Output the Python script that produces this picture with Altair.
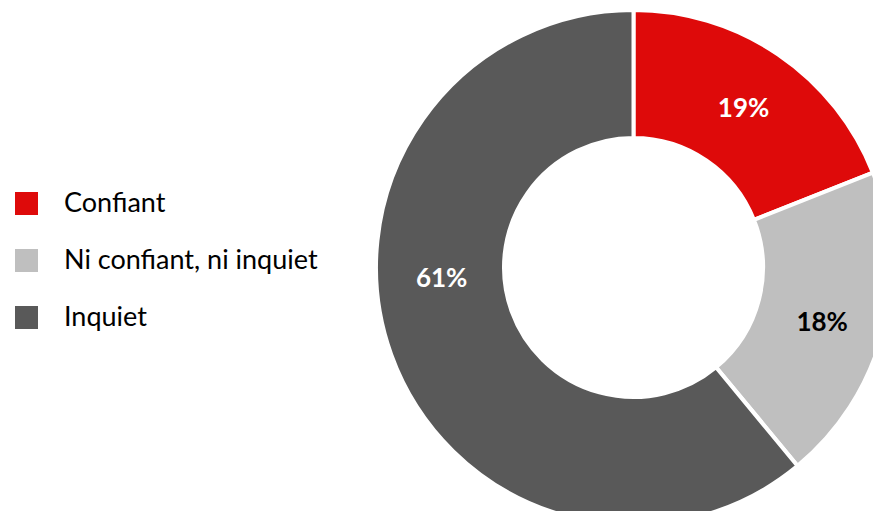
import altair as alt
import pandas as pd

categories = ["Confiant", "Ni confiant, ni inquiet", "Inquiet"]
shares = [19, 20, 61]            # slice sizes as drawn in the picture
labels = ["19%", "18%", "61%"]
label_colors = ["#FFFFFF", "#000000", "#FFFFFF"]
label_pos = [9.4, 29.4, 74.3]    # angular position of each label (same 0-100 scale)
colors = ["#DE0A0A", "#BFBFBF", "#595959"]

df = pd.DataFrame({
    "cat": categories,
    "share": shares,
    "label": labels,
    "tcolor": label_colors,
    "lpos": label_pos,
})
df["end"] = df["share"].cumsum()
df["start"] = df["end"] - df["share"]

theta_scale = alt.Scale(domain=[0, 100], range=[0, 6.283185307179586])
CX, CY = 625.5, 259.5
FONT = "Lato"

base = alt.Chart(df)

arcs = base.mark_arc(innerRadius=129.5, outerRadius=257.5, stroke="white", strokeWidth=4).encode(
    theta=alt.Theta("start:Q", scale=theta_scale),
    theta2="end:Q",
    x=alt.value(CX),
    y=alt.value(CY),
    color=alt.Color(
        "cat:N",
        scale=alt.Scale(domain=categories, range=colors),
        legend=alt.Legend(
            title=None, orient="none", legendX=5, legendY=182,
            symbolType="square", symbolSize=529, symbolStrokeWidth=0,
            labelFont=FONT, labelFontSize=27, labelColor="black",
            labelOffset=24, rowPadding=29, padding=0, labelLimit=0,
        ),
    ),
)

texts = base.mark_text(radius=194, dx=2, dy=3, fontSize=26, fontWeight="bold", font=FONT).encode(
    theta=alt.Theta("lpos:Q", scale=theta_scale),
    x=alt.value(CX),
    y=alt.value(CY),
    text="label:N",
    color=alt.Color("tcolor:N", scale=None),
)

chart = alt.layer(arcs, texts).resolve_scale(color="independent").properties(
    width=865, height=503,
    autosize=alt.AutoSizeParams(type="none"),
    padding=0,
).configure_view(stroke=None)

chart.save("out.html", embed_options={"renderer": "svg", "actions": False})
